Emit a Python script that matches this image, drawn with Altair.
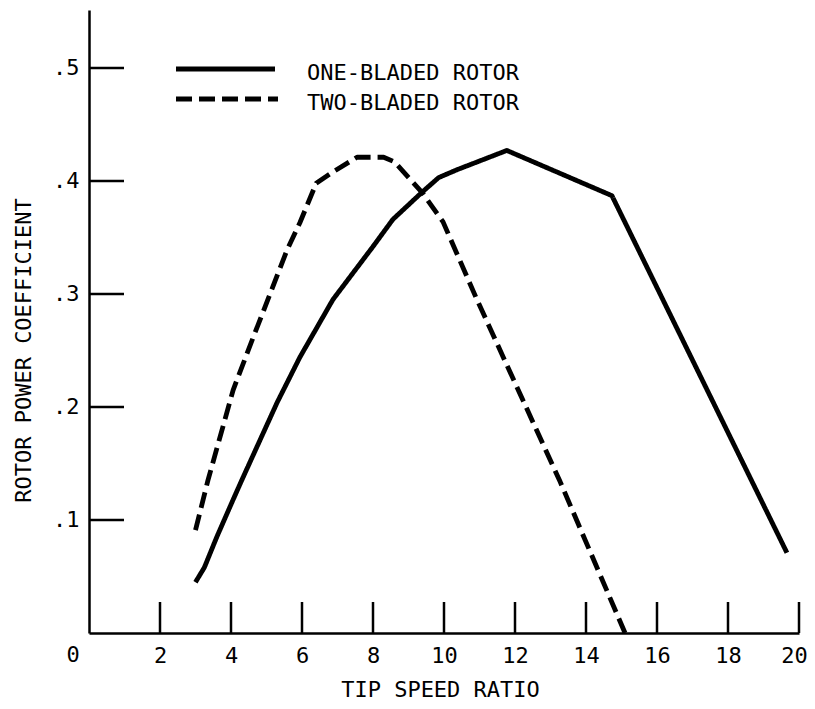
import altair as alt
import pandas as pd

# ---- data ----
series_names = ["ONE-BLADED ROTOR", "TWO-BLADED ROTOR"]

one_x = [3.0, 3.25, 3.6, 4.06, 4.3, 5.3, 5.94, 6.87, 8.0, 8.56, 9.38, 9.85, 10.37, 11.77, 14.73, 19.66]
one_y = [0.045, 0.058, 0.085, 0.118, 0.135, 0.204, 0.244, 0.295, 0.342, 0.366, 0.390, 0.403, 0.410, 0.427, 0.387, 0.071]

two_x = [3.0, 3.35, 4.06, 4.63, 5.58, 5.94, 6.4, 6.87, 7.55, 8.3, 8.6, 9.38, 9.97, 10.9, 13.27, 15.1]
two_y = [0.091, 0.135, 0.215, 0.262, 0.339, 0.363, 0.398, 0.408, 0.421, 0.421, 0.417, 0.390, 0.364, 0.297, 0.134, 0.0]

x_ticks = [2, 4, 6, 8, 10, 12, 14, 16, 18, 20]
y_ticks = [0.1, 0.2, 0.3, 0.4, 0.5]
origin_label = ["0"]

x_title = "TIP SPEED RATIO"
y_title = "ROTOR POWER COEFFICIENT"

# ---- tables ----
df = pd.concat([
    pd.DataFrame({"x": one_x, "y": one_y, "series": series_names[0], "i": range(len(one_x))}),
    pd.DataFrame({"x": two_x, "y": two_y, "series": series_names[1], "i": range(len(two_x))}),
], ignore_index=True)

W, H = 710, 623
FONT = "DejaVu Sans Mono"
FS = 22
LW = 4.8

x_scale = alt.Scale(domain=[0, 20], nice=False, zero=False)
y_scale = alt.Scale(domain=[0, 0.5513], nice=False, zero=False)

x_axis = alt.Axis(
    values=x_ticks, format="d", ticks=False, tickSize=0, grid=False,
    domainColor="black", domainWidth=2.5,
    labelFont=FONT, labelFontSize=FS, labelColor="black", labelPadding=12,
    labelFlush=False, labelOverlap=False,
    labelOffset={"condition": {"test": "datum.value == 20", "value": -5}, "value": 0},
    title=x_title, titleFont=FONT, titleFontSize=FS, titleFontWeight="normal",
    titleColor="black", titleBaseline="top", titleY=46, titleX=W / 2 - 4,
)
y_axis = alt.Axis(
    values=y_ticks, ticks=False, tickSize=0, grid=False,
    labelExpr="replace(format(datum.value, '.1f'), '0.', '.')",
    domainColor="black", domainWidth=2.5,
    labelFont=FONT, labelFontSize=FS, labelColor="black", labelPadding=10,
    labelFlush=False, labelOverlap=False,
    title=y_title, titleFont=FONT, titleFontSize=FS, titleFontWeight="normal",
    titleColor="black", titleAngle=270, titleAlign="center", titleBaseline="middle",
    titleX=-66, titleY=340,
)

lines = alt.Chart(df).mark_line(color="black", strokeWidth=LW, strokeJoin="round").encode(
    x=alt.X("x:Q", scale=x_scale, axis=x_axis),
    y=alt.Y("y:Q", scale=y_scale, axis=y_axis),
    strokeDash=alt.StrokeDash("series:N", scale=alt.Scale(domain=series_names, range=[[1, 0], [16, 7]]), legend=None),
    detail="series:N",
    order="i:Q",
)

xt = alt.Chart(pd.DataFrame({"x": x_ticks})).mark_rule(color="black", strokeWidth=2.5).encode(
    x=alt.X("x:Q", scale=x_scale), y=alt.value(H), y2=alt.value(H - 31)
)
yt = alt.Chart(pd.DataFrame({"y": y_ticks})).mark_rule(color="black", strokeWidth=2.5).encode(
    y=alt.Y("y:Q", scale=y_scale), x=alt.value(0), x2=alt.value(35)
)

zero_lbl = alt.Chart(pd.DataFrame({"x": [0], "y": [0], "t": origin_label})).mark_text(
    font=FONT, fontSize=FS, color="black", baseline="top", align="center", dx=-16, dy=12
).encode(x=alt.X("x:Q", scale=x_scale), y=alt.Y("y:Q", scale=y_scale), text="t:N")

# ---- legend (drawn in the upper-left of the plot) ----
leg_df1 = pd.DataFrame({"series": [series_names[0]]})
leg_df2 = pd.DataFrame({"series": [series_names[1]]})
leg_solid = alt.Chart(leg_df1).mark_rule(color="black", strokeWidth=LW).encode(
    x=alt.value(87), x2=alt.value(186), y=alt.value(59)
)
leg_dash = alt.Chart(leg_df2).mark_rule(color="black", strokeWidth=LW, strokeDash=[16, 7]).encode(
    x=alt.value(87), x2=alt.value(189), y=alt.value(89)
)
leg_t1 = alt.Chart(leg_df1).mark_text(font=FONT, fontSize=FS, color="black", align="left", baseline="middle").encode(
    x=alt.value(218), y=alt.value(63), text="series:N"
)
leg_t2 = alt.Chart(leg_df2).mark_text(font=FONT, fontSize=FS, color="black", align="left", baseline="middle").encode(
    x=alt.value(218), y=alt.value(93), text="series:N"
)

chart = alt.layer(lines, xt, yt, zero_lbl, leg_solid, leg_dash, leg_t1, leg_t2).properties(
    width=W, height=H,
    autosize=alt.AutoSizeParams(type="none"),
    padding={"left": 81, "top": 2, "right": 8, "bottom": 68},
    background="white",
).configure_view(stroke=None)

chart.save("out.html", embed_options={"renderer": "svg", "actions": False})
